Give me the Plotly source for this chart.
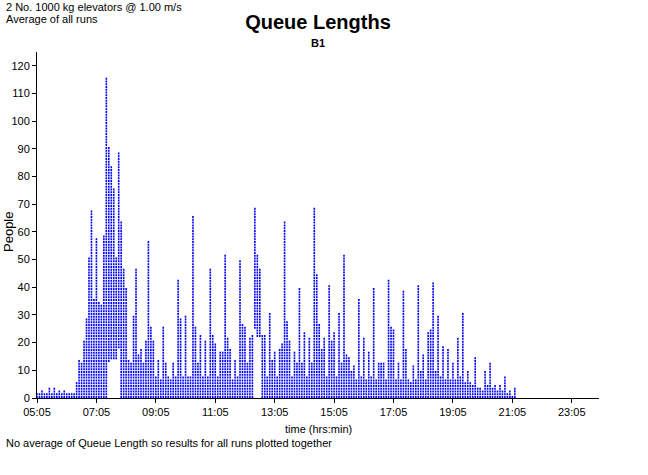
import pandas as pd
import plotly.graph_objects as go

# ---------------- data ----------------
start_time = "2000-01-01 05:05"   # first sample; samples every 5 minutes
sample_step = "5min"

# highest queue length seen (any run) in each 5-minute sample, 05:05 onwards
peak_people = [
    1, 1, 2, 1, 1, 3, 1, 3, 1, 2,
    1, 2, 1, 1, 1, 1, 5, 13, 12, 20,
    28, 50, 67, 35, 57, 34, 33, 58, 115, 90,
    83, 75, 50, 88, 63, 46, 39, 13, 12, 29,
    46, 15, 17, 12, 20, 56, 25, 20, 7, 13,
    6, 25, 12, 7, 6, 12, 7, 42, 28, 7,
    29, 7, 7, 65, 25, 12, 22, 7, 20, 7,
    46, 22, 19, 7, 16, 16, 51, 21, 17, 6,
    13, 7, 49, 26, 25, 12, 21, 22, 68, 51,
    46, 22, 22, 7, 30, 13, 16, 7, 17, 19,
    63, 27, 20, 7, 16, 12, 39, 12, 23, 7,
    21, 12, 68, 44, 26, 17, 21, 7, 40, 20,
    23, 7, 30, 12, 51, 15, 14, 9, 11, 6,
    35, 7, 21, 6, 16, 7, 39, 6, 12, 12,
    12, 6, 42, 25, 24, 6, 12, 6, 38, 17,
    6, 5, 11, 6, 40, 9, 15, 6, 23, 24,
    41, 9, 29, 7, 18, 6, 17, 6, 12, 6,
    21, 7, 30, 5, 9, 5, 4, 14, 3, 3,
    2, 9, 4, 12, 3, 4, 2, 4, 2, 7,
    1, 2, 0, 3,
]

# samples where no run had a short queue (lowest value seen, others are 0)
lowest_people = {
    "07:30": 13, "07:35": 14, "07:40": 14, "07:45": 14, "07:50": 18,
    "12:25": 25, "12:30": 22, "12:35": 22,
}

x_tick_labels = ["05:05", "07:05", "09:05", "11:05", "13:05",
                 "15:05", "17:05", "19:05", "21:05", "23:05"]
y_tick_values = [0, 10, 20, 30, 40, 50, 60, 70, 80, 90, 100, 110, 120]

# ---------------- figure ----------------
FONT = "Liberation Sans, Arial, sans-serif"
W, H = 648, 475
ML, MR, MT, MB = 37, 49, 52, 77
Y_MAX = 125
px_per_unit = (H - MT - MB) / Y_MAX          # vertical pixels per person
dot_units = 2.0 / px_per_unit                 # one 2px dot expressed in people

times = pd.date_range(start_time, periods=len(peak_people), freq=sample_step)

xs, ys = [], []
for t, hi in zip(times, peak_people):
    lo = lowest_people.get(t.strftime("%H:%M"), 0)
    ts = t.strftime("%Y-%m-%d %H:%M")
    xs += [ts, ts, None]
    ys += [lo, hi + dot_units, None]

fig = go.Figure()
fig.add_trace(go.Scatter(
    x=xs, y=ys, mode="lines", connectgaps=False,
    line=dict(color="#0000ff", width=1.6,
              dash="2px,%.3fpx" % (px_per_unit - 2.0)),
    hoverinfo="skip", showlegend=False,
))

day = start_time[:10]
tick_vals = [f"{day} {lab}" for lab in x_tick_labels]

axis_common = dict(
    showline=True, linecolor="black", linewidth=1,
    ticks="outside", ticklen=4, tickcolor="black", tickwidth=1,
    showgrid=False, zeroline=False,
    tickfont=dict(family=FONT, size=11, color="black"),
)

fig.update_layout(
    width=W, height=H,
    margin=dict(l=ML, r=MR, t=MT, b=MB, autoexpand=False),
    paper_bgcolor="white", plot_bgcolor="white",
    font=dict(family=FONT, size=11, color="black"),
    title=dict(text="<b>Queue Lengths</b>", x=318 / W, xanchor="center",
               y=1 - 22 / H, yanchor="middle",
               font=dict(family=FONT, size=20, color="black")),
    xaxis=dict(type="date", range=[f"{day} 05:05", "2000-01-02 00:00"],
               tickvals=tick_vals, ticktext=x_tick_labels, **axis_common),
    yaxis=dict(range=[0, Y_MAX], tickvals=y_tick_values, **axis_common),
)

pw = W - ML - MR
ph = H - MT - MB


def px_x(x):
    return (x - ML) / pw


def px_y(y):
    return (H - MB - y) / ph


ann = [
    dict(text="<b>B1</b>", x=px_x(318), y=px_y(43), font_size=11),
    dict(text="2 No. 1000 kg elevators @ 1.00 m/s", x=px_x(4), y=px_y(7),
         xanchor="left", font_size=11),
    dict(text="Average of all runs", x=px_x(4), y=px_y(19),
         xanchor="left", font_size=11),
    dict(text="People", x=px_x(8), y=px_y(232), textangle=-90, font_size=13),
    dict(text="time (hrs:min)", x=px_x(318), y=px_y(429), font_size=11),
    dict(text="No average of Queue Length so results for all runs plotted together",
         x=px_x(4), y=px_y(443), xanchor="left", font_size=11),
]
for a in ann:
    a.setdefault("xanchor", "center")
    fig.add_annotation(xref="paper", yref="paper", showarrow=False,
                       yanchor="middle",
                       font=dict(family=FONT, size=a.pop("font_size"), color="black"),
                       **a)

fig.write_html("out.html",
               config={"displayModeBar": False, "staticPlot": True},
               post_script="document.body.style.margin='0';")
